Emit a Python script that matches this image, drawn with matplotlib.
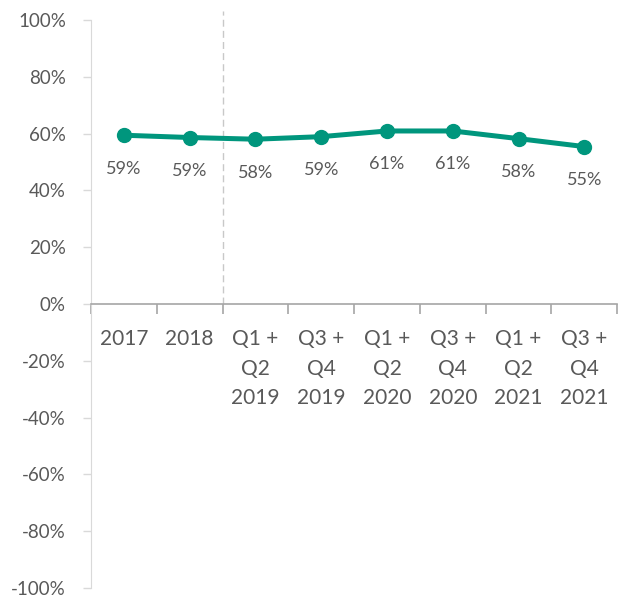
import matplotlib
matplotlib.use("Agg")
import matplotlib.pyplot as plt
from matplotlib.ticker import FixedLocator, FuncFormatter

categories = ["2017", "2018", "Q1 +\nQ2\n2019", "Q3 +\nQ4\n2019", "Q1 +\nQ2\n2020",
              "Q3 +\nQ4\n2020", "Q1 +\nQ2\n2021", "Q3 +\nQ4\n2021"]
values = [59.4, 58.6, 58.0, 58.9, 60.9, 60.9, 58.2, 55.4]
labels = ["59%", "59%", "58%", "59%", "61%", "61%", "58%", "55%"]
yticks = [-100, -80, -60, -40, -20, 0, 20, 40, 60, 80, 100]

plt.rcParams['font.family'] = ['Lato', 'DejaVu Sans']
text_color = '#595959'
teal = '#00967d'

fig = plt.figure(figsize=(6.25, 5.98), dpi=100)
ax = fig.add_axes([0.1456, 0.0167, 0.842, 0.95])

x = list(range(len(categories)))
ax.plot(x, values, color=teal, lw=3.6, marker='o', ms=10, zorder=3,
        solid_capstyle='round')
for xi, v, lab in zip(x, values, labels):
    ax.annotate(lab, (xi, v), xytext=(0, -24), textcoords='offset points',
                ha='center', va='center', fontsize=13, color=text_color)

ax.plot([1.5, 1.5], [0, 103], color='#c8c8c8', lw=1, ls=(0, (5, 3)),
        clip_on=False, zorder=1)

ax.set_xlim(-0.5, len(categories) - 0.5)
ax.set_ylim(-100, 100)
ax.set_yticks(yticks)
ax.yaxis.set_major_formatter(FuncFormatter(lambda v, p: f"{int(v)}%"))
ax.tick_params(axis='y', direction='out', length=6, width=1, color='#d9d9d9',
               labelsize=13.5, labelcolor=text_color, pad=12)

ax.spines['top'].set_visible(False)
ax.spines['right'].set_visible(False)
ax.spines['left'].set_color('#d9d9d9')
ax.spines['bottom'].set_position(('data', 0))
ax.spines['bottom'].set_color('#a6a6a6')
ax.spines['bottom'].set_linewidth(1.2)

ax.xaxis.set_major_locator(FixedLocator(x))
ax.set_xticklabels(categories, fontsize=15, color=text_color, linespacing=1.6,
                   va='top')
ax.xaxis.set_minor_locator(FixedLocator([i - 0.5 for i in range(len(categories) + 1)]))
ax.tick_params(axis='x', which='major', length=0, pad=18)
ax.tick_params(axis='x', which='minor', length=7, width=1.2, color='#a6a6a6',
               direction='out')

fig.savefig("out.png", dpi=100)
